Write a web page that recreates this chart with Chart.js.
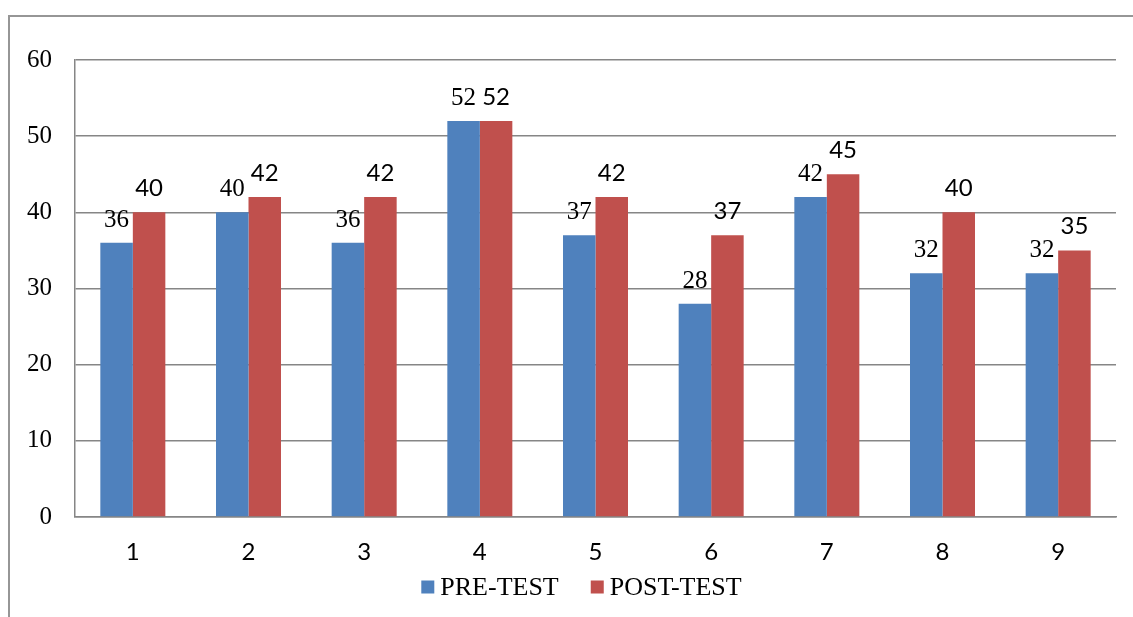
<!DOCTYPE html>
<html>
<head>
<meta charset="utf-8">
<script src="https://cdn.jsdelivr.net/npm/chart.js@4.4.1/dist/chart.umd.min.js"></script>
<style>
  html, body { margin: 0; padding: 0; background: #fff; }
  #wrap { position: relative; width: 1133px; height: 617px; overflow: hidden; }
  #frame {
    position: absolute; left: 8px; top: 15px; width: 2000px; height: 2000px;
    border-top: 2px solid #969696; border-left: 2px solid #969696;
  }
  #grafik { position: absolute; left: 0; top: 0; }
</style>
</head>
<body>
<div id="wrap">
  <div id="frame"></div>
  <canvas id="grafik" width="1133" height="617"></canvas>
</div>
<script>
// Data
const kategori = ["1", "2", "3", "4", "5", "6", "7", "8", "9"];
const nilaiPre = [36, 40, 36, 52, 37, 28, 42, 32, 32];
const nilaiPost = [40, 42, 42, 52, 42, 37, 45, 40, 35];
const tickY = [0, 10, 20, 30, 40, 50, 60];

const fontSerif = "'Liberation Serif', 'Times New Roman', serif";
const fontSans = "Lato, 'Liberation Sans', sans-serif";

// Plugin kecil untuk menulis nilai di atas batang
const labelNilai = {
  id: 'labelNilai',
  afterDatasetsDraw(chart) {
    const ctx = chart.ctx;
    ctx.save();
    ctx.fillStyle = '#000';
    ctx.textAlign = 'center';
    ctx.textBaseline = 'alphabetic';
    chart.data.datasets.forEach((ds, i) => {
      const meta = chart.getDatasetMeta(i);
      ctx.font = i === 0 ? `25px ${fontSerif}` : `24px ${fontSans}`;
      meta.data.forEach((bar, j) => {
        ctx.fillText(String(ds.data[j]), bar.x, bar.y - 16);
      });
    });
    ctx.restore();
  }
};

// Legenda ala Excel: kotak kecil, jarak teks rapat
const legendaBawah = {
  id: 'legendaBawah',
  afterDraw(chart) {
    const ctx = chart.ctx;
    const kotak = 13, celah = 6, antar = 32;
    const yTengah = 587;
    ctx.save();
    ctx.font = `26px ${fontSerif}`;
    ctx.textBaseline = 'middle';
    const item = chart.data.datasets.map(ds => ({
      teks: ds.label, warna: ds.backgroundColor, lebar: ctx.measureText(ds.label).width
    }));
    let total = item.reduce((s, it) => s + kotak + celah + it.lebar, 0) + antar * (item.length - 1);
    let x = (chart.chartArea.left + chart.chartArea.right) / 2 - 14 - total / 2;
    item.forEach(it => {
      ctx.fillStyle = it.warna;
      ctx.fillRect(x, yTengah - kotak / 2, kotak, kotak);
      ctx.fillStyle = '#000';
      ctx.fillText(it.teks, x + kotak + celah, yTengah + 1);
      x += kotak + celah + it.lebar + antar;
    });
    ctx.restore();
  }
};

const ctx = document.getElementById('grafik').getContext('2d');
new Chart(ctx, {
  type: 'bar',
  data: {
    labels: kategori,
    datasets: [
      {
        label: 'PRE-TEST',
        data: nilaiPre,
        backgroundColor: '#4F81BD',
        categoryPercentage: 0.562,
        barPercentage: 1.0
      },
      {
        label: 'POST-TEST',
        data: nilaiPost,
        backgroundColor: '#C0504D',
        categoryPercentage: 0.562,
        barPercentage: 1.0
      }
    ]
  },
  options: {
    responsive: false,
    animation: false,
    layout: { padding: { left: 0, top: 60, right: 17, bottom: 0 } },
    plugins: {
      legend: { display: false },
      tooltip: { enabled: false }
    },
    scales: {
      x: {
        grid: { display: false, drawTicks: false },
        border: { display: true, color: '#868686', width: 1.5 },
        ticks: { color: '#000', padding: 21, font: { family: fontSans, size: 24 } },
        afterFit(scale) { scale.height = 100; }
      },
      y: {
        min: 0,
        max: 60,
        afterBuildTicks(scale) { scale.ticks = tickY.map(v => ({ value: v })); },
        grid: { color: '#868686', lineWidth: 1.5, drawTicks: false },
        border: { display: true, color: '#868686', width: 1.5 },
        ticks: { color: '#000', padding: 23, font: { family: fontSerif, size: 25 } },
        afterFit(scale) { scale.width = 75; }
      }
    }
  },
  plugins: [labelNilai, legendaBawah]
});
</script>
</body>
</html>
